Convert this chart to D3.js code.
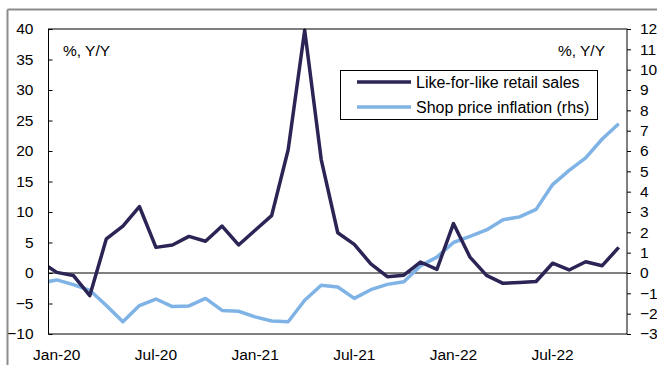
<!DOCTYPE html>
<html>
<head>
<meta charset="utf-8">
<script src="https://cdn.jsdelivr.net/npm/d3@7"></script>
<style>
  html, body { margin: 0; padding: 0; background: #fff; }
  svg { display: block; font-family: "Liberation Sans", Arial, sans-serif; }
</style>
</head>
<body>
<svg id="chart" width="657" height="365"></svg>
<script>
// ---- data ----
const months = ["Dec-19",
  "Jan-20","Feb-20","Mar-20","Apr-20","May-20","Jun-20","Jul-20","Aug-20","Sep-20","Oct-20","Nov-20","Dec-20",
  "Jan-21","Feb-21","Mar-21","Apr-21","May-21","Jun-21","Jul-21","Aug-21","Sep-21","Oct-21","Nov-21","Dec-21",
  "Jan-22","Feb-22","Mar-22","Apr-22","May-22","Jun-22","Jul-22","Aug-22","Sep-22","Oct-22","Nov-22"];
const likeForLike = [1.9,
  0.1,-0.4,-3.7,5.6,7.7,10.9,4.2,4.6,6.0,5.2,7.7,4.6,
  7.0,9.4,20.2,39.8,18.6,6.6,4.7,1.5,-0.6,-0.35,1.8,0.6,
  8.1,2.6,-0.4,-1.7,-1.55,-1.4,1.6,0.5,1.85,1.2,4.2];
const shopPrice = [-0.5,
  -0.34,-0.57,-0.85,-1.6,-2.4,-1.6,-1.28,-1.65,-1.62,-1.25,-1.84,-1.88,
  -2.16,-2.36,-2.4,-1.34,-0.6,-0.69,-1.25,-0.82,-0.56,-0.43,0.35,0.78,
  1.5,1.8,2.12,2.62,2.76,3.13,4.35,5.05,5.66,6.59,7.34];
const xTickLabels = ["Jan-20","Jul-20","Jan-21","Jul-21","Jan-22","Jul-22"];
const leftTicks = [-10,-5,0,5,10,15,20,25,30,35,40];
const rightTicks = [-3,-2,-1,0,1,2,3,4,5,6,7,8,9,10,11,12];
const seriesNames = ["Like-for-like retail sales", "Shop price inflation (rhs)"];
const colors = ["#2a2555", "#7fb3e6"];

// ---- layout ----
const svg = d3.select("#chart");
const plot = {left: 48.5, right: 627, top: 29, bottom: 334};

const x = d3.scaleLinear().domain([0.5, months.length - 0.5]).range([plot.left, plot.right]);
const yL = d3.scaleLinear().domain([-10, 40]).range([plot.bottom, plot.top]);
const yR = d3.scaleLinear().domain([-3, 12]).range([plot.bottom, plot.top]);

// outer grey frame
svg.append("line").attr("x1", 7.5).attr("x2", 657).attr("y1", 9.5).attr("y2", 9.5)
  .attr("stroke", "#8c8c8c").attr("stroke-width", 2);
svg.append("line").attr("x1", 7.5).attr("x2", 7.5).attr("y1", 9.5).attr("y2", 365)
  .attr("stroke", "#8c8c8c").attr("stroke-width", 2);

// clip
svg.append("clipPath").attr("id", "clip").append("rect")
  .attr("x", plot.left).attr("y", plot.top - 2)
  .attr("width", plot.right - plot.left).attr("height", plot.bottom - plot.top + 2);

// zero line
svg.append("line").attr("x1", plot.left).attr("x2", plot.right)
  .attr("y1", yL(0)).attr("y2", yL(0)).attr("stroke", "#000").attr("stroke-width", 1);

const idx = months.map((m, i) => i);
const lineL = d3.line().x(i => x(i)).y(i => yL(likeForLike[i]));
const lineR = d3.line().x(i => x(i)).y(i => yR(shopPrice[i]));

const g = svg.append("g").attr("clip-path", "url(#clip)");
g.append("path").attr("d", lineR(idx)).attr("fill", "none")
  .attr("stroke", colors[1]).attr("stroke-width", 3.5).attr("stroke-linejoin", "round");
g.append("path").attr("d", lineL(idx)).attr("fill", "none")
  .attr("stroke", colors[0]).attr("stroke-width", 3.5).attr("stroke-linejoin", "round");

// plot frame
svg.append("rect").attr("x", plot.left).attr("y", plot.top)
  .attr("width", plot.right - plot.left).attr("height", plot.bottom - plot.top)
  .attr("fill", "none").attr("stroke", "#000").attr("stroke-width", 1);

// axes
const axL = svg.append("g").attr("transform", `translate(${plot.left},0)`)
  .call(d3.axisLeft(yL).tickValues(leftTicks).tickSize(-4).tickPadding(15).tickFormat(d3.format("d")));
const axR = svg.append("g").attr("transform", `translate(${plot.right},0)`)
  .call(d3.axisRight(yR).tickValues(rightTicks).tickSize(4).tickPadding(9).tickFormat(d3.format("d")));
[axL, axR].forEach(a => {
  a.select(".domain").remove();
  a.selectAll(".tick line").attr("stroke", "#000");
  a.selectAll(".tick text").attr("fill", "#000").attr("font-size", 15.5)
    .attr("font-family", "Liberation Sans, Arial, sans-serif");
});

// x labels
svg.append("g").selectAll("text").data(xTickLabels).join("text")
  .attr("x", d => x(months.indexOf(d)))
  .attr("y", 360)
  .attr("text-anchor", "middle")
  .attr("font-size", 15.5)
  .attr("fill", "#000")
  .text(d => d);

// unit labels
svg.append("text").attr("x", 63).attr("y", 56).attr("font-size", 15.5).text("%, Y/Y");
svg.append("text").attr("x", 605).attr("y", 56).attr("font-size", 15.5)
  .attr("text-anchor", "end").text("%, Y/Y");

// legend
const leg = svg.append("g");
leg.append("rect").attr("x", 340.5).attr("y", 70.5).attr("width", 257).attr("height", 49)
  .attr("fill", "#fff").attr("stroke", "#000").attr("stroke-width", 1);
seriesNames.forEach((name, k) => {
  const yy = 82 + k * 25;
  leg.append("line").attr("x1", 357).attr("x2", 411).attr("y1", yy).attr("y2", yy)
    .attr("stroke", colors[k]).attr("stroke-width", 3.5);
  leg.append("text").attr("x", 416).attr("y", yy + 5.5).attr("font-size", 16)
    .attr("fill", "#000").text(name);
});
</script>
</body>
</html>
